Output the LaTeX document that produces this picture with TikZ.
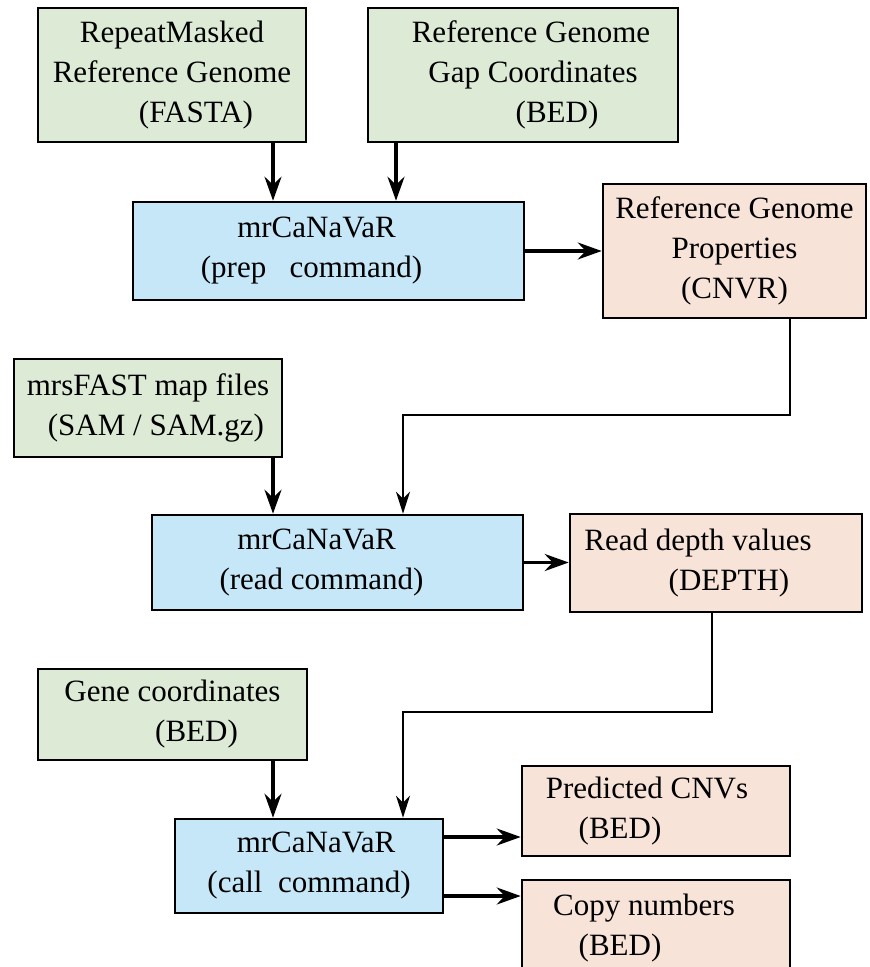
\documentclass[tikz,border=0pt]{standalone}
\usepackage{fontspec}
\setmainfont{Liberation Serif}
\usetikzlibrary{shapes,arrows.meta,calc}

\definecolor{inputgreen}{HTML}{DDEBD6}
\definecolor{cmdblue}{HTML}{C6E7F8}
\definecolor{outpeach}{HTML}{F8E3D9}

\tikzset{
  box/.style={draw, line width=1.3pt, inner sep=0pt, align=center,
    font=\fontsize{15.5}{20}\selectfont},
  inbox/.style={box, fill=inputgreen},
  cmdbox/.style={box, fill=cmdblue},
  outbox/.style={box, fill=outpeach},
  feed/.style={line width=1.6pt, -{Stealth[length=12pt,width=8.5pt,inset=4pt]}},
  link/.style={line width=1pt, -{Stealth[length=11pt,width=7pt,inset=3.5pt]}},
}

\begin{document}
\begin{tikzpicture}[x=0.5pt,y=-0.5pt]
  \clip (0,0) rectangle (869,967);

  % prep step
  \node[inbox, minimum width=134pt, minimum height=67pt] (repmask) at (172,75)
    {RepeatMasked\\Reference Genome\\\hspace*{24pt}(FASTA)};
  \node[inbox, minimum width=155pt, minimum height=67pt] (gapbed) at (523,75)
    {\hspace*{8pt}Reference Genome\\\hspace*{10pt}Gap Coordinates\\\hspace*{34pt}(BED)};
  \node[cmdbox, minimum width=195.5pt, minimum height=49pt] (prep) at (328.5,251)
    {mrCaNaVaR\hspace*{12pt}\\(prep~~~command)\hspace*{17pt}};
  \node[outbox, minimum width=131.5pt, minimum height=67pt] (refprop) at (734.5,251)
    {Reference Genome\\Properties\\(CNVR)};

  % read step
  \node[inbox, minimum width=134pt, minimum height=49pt] (samfiles) at (148,408)
    {mrsFAST map files\\\hspace*{8pt}(SAM / SAM.gz)};
  \node[cmdbox, minimum width=185.5pt, minimum height=47.5pt] (readcmd) at (337.5,562.5)
    {mrCaNaVaR\hspace*{21pt}\\(read command)\hspace*{16pt}};
  \node[outbox, minimum width=146pt, minimum height=49pt] (depth) at (716,563)
    {Read depth values\hspace*{18pt}\\\hspace*{13pt}(DEPTH)};

  % call step
  \node[inbox, minimum width=134.5pt, minimum height=45.5pt] (genebed) at (172.5,714.5)
    {Gene coordinates\\\hspace*{24pt}(BED)};
  \node[cmdbox, minimum width=134pt, minimum height=47pt] (callcmd) at (309,866)
    {\hspace*{7pt}mrCaNaVaR\\(call~~command)};
  \node[outbox, minimum width=134pt, minimum height=45pt] (cnvs) at (656,811)
    {Predicted CNVs\hspace*{9pt}\\(BED)\hspace*{36pt}};
  \node[outbox, minimum width=134pt, minimum height=48pt] (copynum) at (656,928)
    {Copy numbers\hspace*{12pt}\\(BED)\hspace*{36pt}};

  % inputs into the commands
  \draw[feed] ($(repmask.south)+(101,0)$) coordinate (a1) -- (a1 |- prep.north);
  \draw[feed] ($(gapbed.south)+(-127,0)$) coordinate (a2) -- (a2 |- prep.north);
  \draw[feed] ($(samfiles.south)+(125,0)$) coordinate (a3) -- (a3 |- readcmd.north);
  \draw[feed] ($(genebed.south)+(100.5,0)$) coordinate (a4) -- (a4 |- callcmd.north);

  % outputs
  \draw[feed] (prep.east) -- (refprop.west);
  \draw[feed] (readcmd.east) -- (readcmd.east -| depth.west);
  \coordinate (c1) at ($(callcmd.east)+(0,-29)$);
  \coordinate (c2) at ($(callcmd.east)+(0,30)$);
  \draw[feed] (c1) -- (c1 -| cnvs.west);
  \draw[feed] (c2) -- (c2 -| copynum.west);

  % results passed on
  \draw[link] ($(refprop.south)+(55.5,0)$) -- ++(0,96) -| ($(readcmd.north)+(65.5,0)$);
  \draw[link] ($(depth.south)+(-4,0)$) -- ++(0,99) -| ($(callcmd.north)+(94,0)$);
\end{tikzpicture}
\end{document}
